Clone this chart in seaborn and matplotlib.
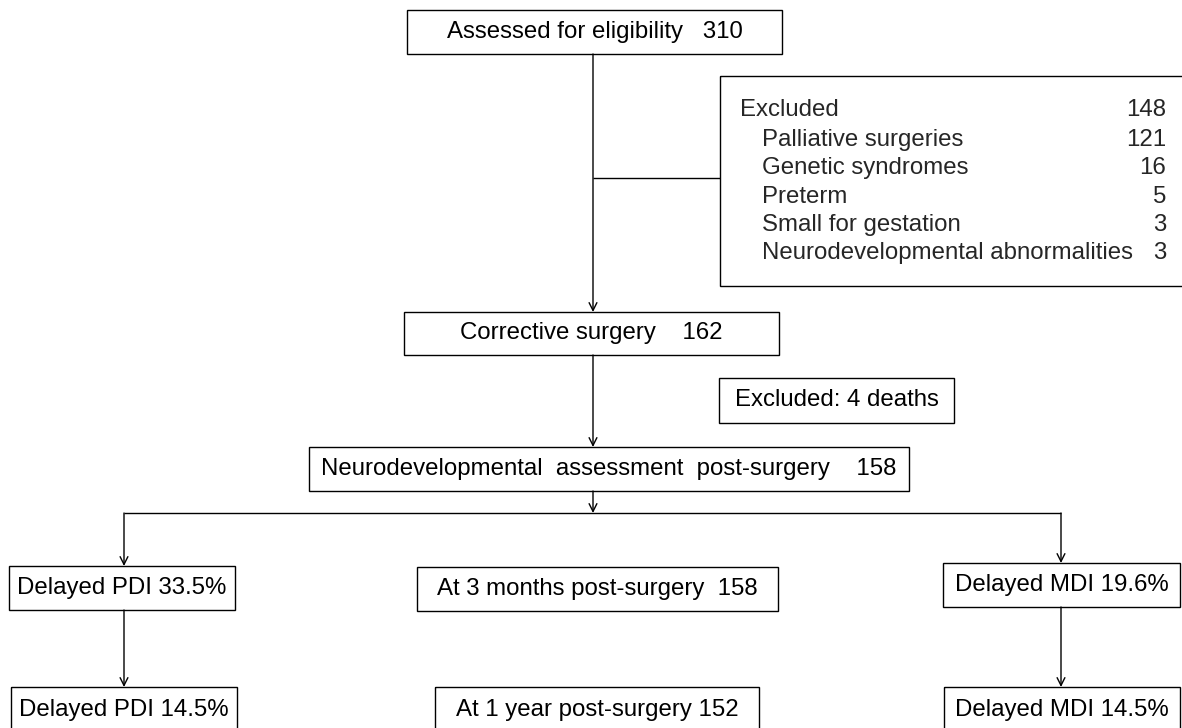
import matplotlib
matplotlib.use('Agg')
import matplotlib.pyplot as plt
import seaborn as sns

sns.set_theme(style='white')
plt.rcParams['font.family'] = ['Liberation Sans', 'DejaVu Sans']

# flow counts
assessed = 310
corrective = 162
deaths = 4
neuro = 158
at_3_months = 158
at_1_year = 152

excluded_total = 148
excluded_reasons = ['Palliative surgeries', 'Genetic syndromes', 'Preterm',
                    'Small for gestation', 'Neurodevelopmental abnormalities']
excluded_counts = [121, 16, 5, 3, 3]

pdi_delay = [33.5, 14.5]
mdi_delay = [19.6, 14.5]

FS = 17.3

fig = plt.figure(figsize=(11.82, 7.28), dpi=100)
ax = fig.add_axes([0, 0, 1, 1])
ax.set_xlim(0, 1182)
ax.set_ylim(728, 0)
ax.axis('off')


def box(x0, y0, x1, y1, text=None):
    ax.add_patch(plt.Rectangle((x0, y0), x1 - x0, y1 - y0, fill=False,
                               edgecolor='black', lw=1.0))
    if text is not None:
        ax.text((x0 + x1) / 2, (y0 + y1) / 2, text, ha='center', va='center',
                fontsize=FS, color='black')


def line(x0, y0, x1, y1):
    ax.plot([x0, x1], [y0, y1], color='black', lw=1.0, solid_capstyle='butt')


def arrow(x, y0, y1):
    ax.annotate('', xy=(x, y1), xytext=(x, y0),
                arrowprops=dict(arrowstyle='->', color='black', lw=1.0,
                                mutation_scale=14, shrinkA=0, shrinkB=0))


# main column
box(407, 10, 782, 54, f'Assessed for eligibility   {assessed}')
arrow(593, 54, 312)
line(593, 178, 720, 178)

# exclusion list
box(720, 76, 1192, 286)
ax.text(740, 110, 'Excluded', ha='left', va='center', fontsize=FS)
ax.text(1166, 110, str(excluded_total), ha='right', va='center', fontsize=FS)
for i, (reason, n) in enumerate(zip(excluded_reasons, excluded_counts)):
    yy = 140 + i * 28.3
    ax.text(762, yy, reason, ha='left', va='center', fontsize=FS)
    ax.text(1166, yy, str(n), ha='right', va='center', fontsize=FS)

box(404, 312, 779, 355, f'Corrective surgery    {corrective}')
arrow(593, 355, 447)
box(719, 378, 954, 423, f'Excluded: {deaths} deaths')

box(309, 447, 909, 491,
    f'Neurodevelopmental  assessment  post-surgery    {neuro}')
arrow(593, 491, 513)

# branches
line(124, 513, 1061, 513)
arrow(124, 513, 566)
arrow(1061, 513, 563)

box(9, 566, 235, 610, f'Delayed PDI {pdi_delay[0]}%')
arrow(124, 610, 687)
box(11, 687, 237, 733, f'Delayed PDI {pdi_delay[1]}%')

box(417, 567, 778, 611, f'At 3 months post-surgery  {at_3_months}')
box(435, 687, 759, 733, f'At 1 year post-surgery {at_1_year}')

box(943, 563, 1180, 607, f'Delayed MDI {mdi_delay[0]}%')
arrow(1061, 607, 687)
box(944, 687, 1180, 733, f'Delayed MDI {mdi_delay[1]}%')

fig.savefig('out.png', dpi=100)
